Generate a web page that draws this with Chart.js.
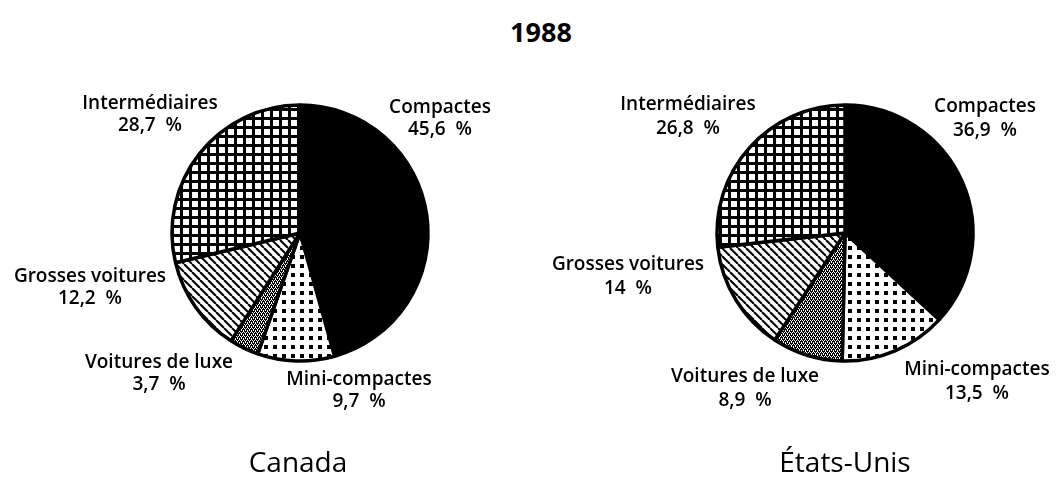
<!DOCTYPE html>
<html><head><meta charset="utf-8">
<script src="https://cdn.jsdelivr.net/npm/chart.js@4/dist/chart.umd.min.js"></script>
<style>
html,body{margin:0;padding:0;background:#fff;}
#wrap{position:relative;width:1058px;height:487px;overflow:hidden;font-family:"Open Sans",sans-serif;color:#000}
.c{position:absolute;top:0;height:487px}
#title{position:absolute;left:441px;width:200px;top:13px;text-align:center;font-weight:bold;font-size:27px;line-height:38px}
.country{position:absolute;font-size:28px;top:442px;text-align:center;width:300px;line-height:38px;font-weight:500}
</style></head>
<body><div id="wrap">
<div id="title"></div>
<div class="c" style="left:0;width:530px"><canvas id="ca"></canvas></div>
<div class="c" style="left:530px;width:528px"><canvas id="us"></canvas></div>
<div class="country" id="n0" style="left:148px"></div>
<div class="country" id="n1" style="left:695px"></div>
</div>
<script>
const yearLabel = '1988';
const regionNames = ['Canada', 'États-Unis'];
const categories = ['Compactes', 'Mini-compactes', 'Voitures de luxe', 'Grosses voitures', 'Intermédiaires'];
const canadaValues = [45.6, 9.7, 3.7, 12.2, 28.7];
const usValues = [36.9, 13.5, 8.9, 14, 26.8];

document.getElementById('title').textContent = yearLabel;
document.getElementById('n0').textContent = regionNames[0];
document.getElementById('n1').textContent = regionNames[1];

function makePattern(size, draw) {
  const c = document.createElement('canvas');
  c.width = c.height = size;
  const x = c.getContext('2d');
  x.fillStyle = '#fff'; x.fillRect(0, 0, size, size);
  x.fillStyle = '#000'; x.strokeStyle = '#000';
  draw(x, size);
  return x.createPattern(c, 'repeat');
}
const pSolid = '#000';
const pDots = makePattern(9, (x) => { x.fillRect(3, 3, 4, 4); });
const pFine = makePattern(4, (x) => {
  x.fillRect(0, 0, 4, 4); x.fillStyle = '#fff';
  x.fillRect(0, 0, 1, 1); x.fillRect(2, 0, 1, 1); x.fillRect(1, 2, 1, 1); x.fillRect(3, 2, 1, 1);
  x.fillRect(1, 1, 1, 1); x.fillRect(3, 3, 1, 1);
});
const pDiag = makePattern(8, (x, s) => {
  x.lineWidth = 2;
  for (let k = -s; k <= s; k += s) { x.beginPath(); x.moveTo(k, 0); x.lineTo(k + s, s); x.stroke(); }
});
const pGrid = makePattern(9, (x) => { x.fillRect(0, 0, 9, 9); x.fillStyle = '#fff'; x.fillRect(3, 3, 6, 6); });
const fills = [pSolid, pDots, pFine, pDiag, pGrid];

const labelPlugin = {
  id: 'sliceLabels',
  afterDatasetsDraw(chart, args, opts) {
    const ctx = chart.ctx;
    const meta = chart.getDatasetMeta(0);
    const vals = chart.data.datasets[0].data;
    const arc0 = meta.data[0];
    const cx = arc0.x, cy = arc0.y;
    ctx.save();
    ctx.fillStyle = '#000';
    ctx.font = '600 19px "Open Sans"';
    ctx.textAlign = 'center';
    ctx.textBaseline = 'middle';
    chart.data.labels.forEach((lab, i) => {
      const [dx, dy] = opts.offsets[i];
      ctx.fillText(lab, cx + dx, cy + dy);
      const v = String(vals[i]).replace('.', ',') + '  %';
      ctx.fillText(v, cx + dx, cy + dy + opts.lineGap);
    });
    ctx.restore();
  }
};

function makeChart(id, values, padding, offsets, lineGap) {
  return new Chart(document.getElementById(id), {
    type: 'pie',
    data: {
      labels: categories,
      datasets: [{
        data: values,
        backgroundColor: fills,
        borderColor: '#000',
        borderWidth: 3.5,
        radius: 128
      }]
    },
    options: {
      responsive: true,
      maintainAspectRatio: false,
      animation: false,
      layout: { padding: padding },
      plugins: {
        legend: { display: false },
        tooltip: { enabled: false },
        sliceLabels: { offsets: offsets, lineGap: lineGap }
      }
    },
    plugins: [labelPlugin]
  });
}

// Canada pie centred at x=300 in a 530-wide canvas
makeChart('ca', canadaValues,
  { left: 170, right: 100, top: 103, bottom: 124 },
  [[140, -125], [59, 147], [-141, 130], [-210, 44], [-150, -129]], 22);
// US pie centred at x=845 (local 315) in a 528-wide canvas
makeChart('us', usValues,
  { left: 185, right: 83, top: 103, bottom: 124 },
  [[140, -126], [132, 137], [-100, 144], [-217, 32], [-157, -128]], 24);
</script>
</body></html>
